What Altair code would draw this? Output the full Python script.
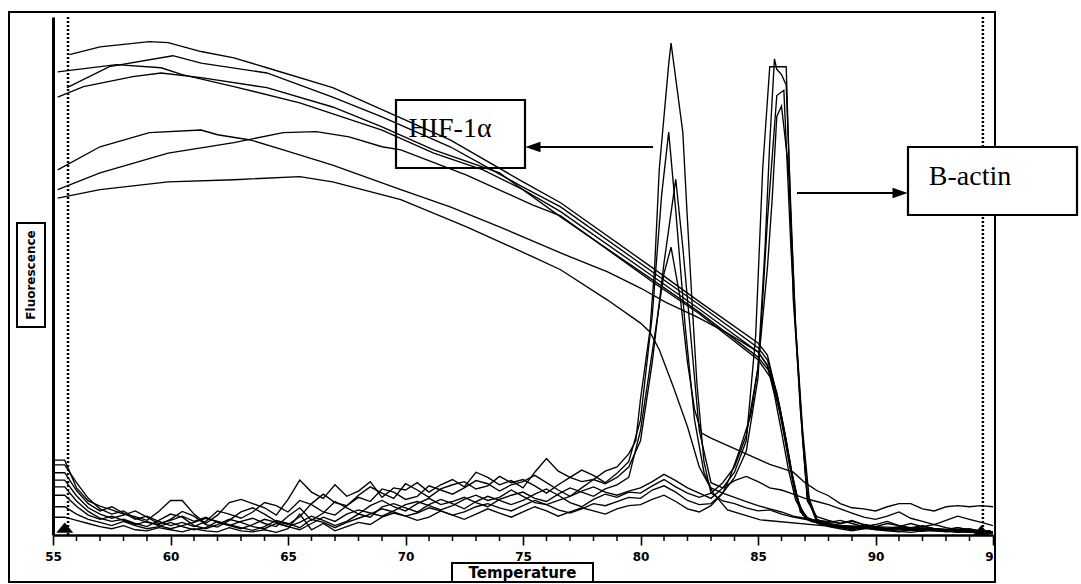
import altair as alt
import pandas as pd

# ---------------- melt curves (fluorescence, arbitrary units 0-99) ----------------
M1_T = [55.7,57.0,59.1,59.9,61.3,62.7,64.1,66.9,69.0,71.9,75.0,76.6,80.5,82.5,85.0,85.4,85.6,85.9,86.2,86.5,86.8,87.3,88.9,94.9]
M1_Y = [91.8,93.3,94.3,94.1,92.4,91.2,89.3,85.5,81.3,75.5,67.5,63.5,51.1,44.6,36.7,34.4,30.6,24.9,18.2,10.5,4.4,2.5,1.3,0.6]
M2_T = [55.6,57.4,60.1,61.3,64.1,66.9,69.0,71.9,75.0,76.6,80.5,82.5,85.0,85.4,85.7,86.0,86.3,86.6,86.9,87.6,90.2,94.9]
M2_Y = [85.5,89.5,91.6,90.2,88.3,83.7,79.9,74.2,66.5,62.7,50.3,44.0,35.8,33.5,28.7,22.0,14.3,7.6,3.8,2.1,1.1,0.4]
M3_T = [55.2,57.7,59.6,60.5,62.7,65.5,69.0,71.2,73.3,75.0,76.6,80.5,82.5,85.0,85.4,85.8,86.1,86.4,86.7,87.0,88.1,91.9,94.9]
M3_Y = [88.5,89.9,89.3,88.0,85.7,82.6,77.4,73.0,69.8,66.0,61.8,49.5,43.2,35.0,32.5,27.3,20.5,12.8,6.7,3.3,1.7,1.0,0.8]
M4_T = [55.2,56.3,58.4,59.6,61.3,64.1,66.9,69.0,71.2,74.0,76.6,80.5,82.5,85.0,85.5,85.85,86.15,86.45,86.75,87.1,88.5,94.9]
M4_Y = [83.7,85.7,87.6,88.3,87.4,85.5,81.8,78.0,73.6,69.2,60.8,48.8,42.6,34.0,31.2,25.8,18.9,11.5,5.7,2.9,1.5,0.6]
M5_T = [55.2,57.0,59.1,61.3,62.0,63.4,64.8,66.9,69.8,71.9,74.0,76.6,78.6,80.0,81.1,82.4,83.7,85.0,85.4,85.7,86.0,86.3,86.6,87.0,88.1,94.9]
M5_Y = [69.8,74.2,76.9,77.4,76.5,75.5,73.6,70.7,66.0,62.7,58.9,53.9,50.3,47.2,44.4,41.7,38.6,35.0,32.3,26.8,19.7,12.4,6.7,3.4,1.9,0.8]
M6_T = [55.2,57.0,59.9,62.7,64.8,66.2,67.6,69.0,69.8,72.6,75.4,76.6,80.5,82.5,85.0,85.55,85.9,86.2,86.5,86.8,87.2,89.3,94.9]
M6_Y = [66.0,69.2,73.0,75.0,76.9,77.1,76.1,74.2,73.6,68.8,63.1,61.0,48.4,42.3,33.5,30.0,23.9,17.2,9.9,5.2,2.7,1.3,0.6]
M7_T = [55.2,57.0,59.9,62.7,65.5,66.9,69.8,72.6,75.4,76.6,78.6,80.0,80.4,80.8,81.4,82.0,82.5,83.1,83.7,85.1,88.9,94.9]
M7_Y = [64.4,66.0,67.5,67.9,68.5,67.5,64.1,58.9,53.2,50.7,44.9,40.5,38.8,35.4,28.3,20.7,13.0,8.0,4.8,2.9,1.3,0.6]

# ---------------- derivative (melt peak) curves ----------------
T_PRE = [55.0 + 0.5 * i for i in range(50)]    # 55.0 ... 79.5
T_POST = [88.0 + 0.5 * i for i in range(15)]   # 88.0 ... 95.0

D1_PRE = [14.3,14.3,9.0,6.5,5.5,4.8,4.0,3.5,2.8,4.5,
          6.6,6.6,4.0,2.2,3.8,6.2,6.8,6.0,5.2,3.8,
          6.8,10.5,8.2,7.0,9.6,7.4,8.4,10.2,7.2,9.0,
          8.6,10.0,8.2,9.6,10.6,9.2,12.0,11.0,9.6,10.4,
          9.0,12.0,14.6,12.2,11.0,10.2,10.6,12.2,13.0,15.5]
D2_PRE = [13.4,13.4,10.0,7.0,5.0,4.0,4.6,3.2,2.4,2.0,
          3.0,4.5,3.6,2.0,1.5,2.8,4.4,5.2,4.0,2.6,
          2.0,3.5,6.0,7.8,6.2,5.6,7.6,9.2,8.0,7.0,
          9.8,8.6,7.2,8.8,9.6,10.2,8.8,9.4,11.2,10.0,
          10.6,9.4,8.0,9.6,11.0,12.4,11.4,10.0,11.8,14.0]
D3_PRE = [11.9,11.9,8.5,6.0,4.6,5.4,4.2,3.0,3.6,2.6,
          1.8,2.4,1.6,2.6,4.6,4.0,3.2,4.4,6.2,5.6,
          4.4,6.6,5.8,4.4,3.8,5.6,7.2,6.4,8.8,8.2,
          6.8,7.4,9.4,8.6,7.8,9.0,10.4,9.8,8.4,9.6,
          10.2,11.4,10.0,8.6,7.4,9.0,10.6,9.8,11.0,13.0]
D4_PRE = [10.5,10.5,7.5,5.2,4.0,3.2,3.8,4.6,3.4,2.2,
          2.8,3.6,2.6,3.4,2.4,1.8,2.6,3.2,2.2,1.6,
          3.6,5.2,2.8,4.2,6.4,5.2,4.0,5.6,6.6,5.4,
          4.6,6.0,7.0,5.8,6.4,7.2,6.2,5.4,6.8,7.6,
          8.2,7.0,6.4,7.8,9.0,8.2,7.4,8.8,9.6,11.0]
D5_PRE = [9.2,9.2,6.5,4.5,3.2,2.6,3.0,2.2,1.6,2.8,
          4.0,3.4,1.8,1.2,2.0,3.0,2.4,1.6,1.2,2.2,
          1.6,2.4,3.6,2.8,1.8,2.6,4.0,3.4,5.4,6.0,
          5.2,4.4,5.8,6.8,6.0,5.0,6.4,7.4,6.6,5.8,
          6.6,7.8,8.8,7.6,6.2,5.4,6.8,7.8,7.2,8.2]
D6_PRE = [7.6,7.6,5.5,3.8,3.0,3.6,2.8,2.0,2.6,1.8,
          1.2,1.8,2.4,3.2,2.6,1.8,1.2,2.0,3.0,2.4,
          1.6,1.0,2.2,3.4,2.6,4.0,4.8,4.2,3.6,4.6,
          5.8,6.4,5.6,4.8,5.6,6.8,7.6,6.6,7.2,8.6,
          7.4,6.2,5.8,6.6,7.4,8.4,9.2,8.2,7.6,8.4]
D7_PRE = [5.4,5.4,4.0,3.0,2.4,1.8,2.6,1.8,1.2,1.6,
          2.4,1.6,1.0,1.4,2.6,2.0,1.4,0.9,1.6,2.8,
          2.2,1.4,3.0,2.4,1.4,2.4,3.2,4.0,5.0,4.4,
          3.6,4.2,5.2,4.6,3.8,4.4,5.4,6.0,5.2,4.6,
          5.6,6.6,5.8,4.8,4.2,5.0,6.0,5.6,6.4,7.2]
D8_PRE = [3.4,3.4,2.8,2.2,1.6,1.2,1.8,1.0,0.8,1.4,
          1.0,0.6,1.2,0.8,0.6,1.4,0.8,0.6,1.0,0.5,
          1.2,4.0,1.0,2.2,0.8,1.6,2.4,2.0,3.4,4.2,
          3.6,2.8,3.4,4.6,3.8,3.0,4.0,5.0,4.2,3.4,
          4.4,5.4,4.6,3.6,4.4,5.2,4.6,4.0,5.0,5.6]

# HIF-1a peaks (~81 C)
D1_MT = [79.8,80.0,80.4,80.6,80.8,81.0,81.2,81.3,81.8,82.0,82.2,82.4,82.7,83.0,83.5,84.0,84.5,85.0,85.5,86.0,86.5,87.0,87.5]
D1_MY = [18,26,39,51,70,80,90,94,77,60,44,29,14,8,6.5,6.0,5.2,4.6,4.8,4.0,3.4,3.0,2.8]
D2_MT = [80.0,80.5,80.9,81.2,81.5,81.9,82.3,82.7,83.0,83.5,84.0,84.5,85.0,85.5,86.0,86.5,87.0,87.5]
D2_MY = [22,42,65,77,62,40,22,12,9.0,8.0,7.2,6.4,5.6,5.0,4.4,3.6,3.2,2.6]
D3_MT = [80.0,80.5,81.0,81.5,81.8,82.1,82.5,83.0,83.5,84.0,84.5,85.0,85.5,86.0,86.5,87.0,87.5]
D3_MY = [18,33,52,68,55,40,20,10,9.0,10.4,11.2,10.2,9.0,8.6,7.8,7.0,6.4]
D4_MT = [80.0,80.5,81.0,81.3,81.7,82.0,82.3,82.6,83.0,83.5,84.0,84.5,85.0,85.5,86.0,86.5,87.0,87.5]
D4_MY = [20,35,50,55,45,33,24,19.5,18.5,17.5,16.5,15.5,14.5,13.5,12.8,12.0,10.0,8.5]
# B-actin peaks (~86 C)
D5_MT = [80.0,80.5,81.0,81.5,82.0,82.5,83.0,83.5,84.0,84.5,85.0,85.3,85.5,85.7,85.8,86.0,86.2,86.4,86.6,86.9,87.1,87.5]
D5_MY = [8.0,9.4,10.6,9.2,8.0,7.2,8.0,10,13,19,32,55,75,91,89,88,86,62,40,18,7,3]
D6_MT = [80.0,80.5,81.0,81.5,82.0,82.5,83.0,83.5,84.0,84.5,84.9,85.2,85.5,86.2,86.5,86.9,87.1,87.5]
D6_MY = [9.0,10.2,11.6,10.4,9.0,8.0,7.0,9,12,18,38,70,89.5,89.5,45,19,6.5,3.5]
D7_MT = [80.0,80.5,81.0,81.5,82.0,82.5,83.0,83.5,84.0,84.5,85.0,85.4,85.8,86.1,86.4,86.8,87.1,87.5]
D7_MY = [7.0,8.6,9.4,8.2,6.6,5.8,6.0,8,11,16,30,60,84,85,55,24,8,3]
D8_MT = [80.0,80.5,81.0,81.5,82.0,82.5,83.0,83.5,83.8,84.2,84.7,85.0,85.4,85.6,85.8,86.0,86.3,86.6,86.9,87.2,87.5]
D8_MY = [5.8,6.8,7.6,6.4,5.0,4.4,5.6,8,11,16,23,32,51,64,80,82,70,40,20,6,2.5]

D1_POST = [2.6,2.2,2.8,2.0,1.6,2.2,1.8,1.4,1.8,1.2,1.0,1.4,0.9,0.8,0.6]
D2_POST = [2.4,2.8,2.2,1.6,2.0,2.6,1.8,1.2,1.6,2.0,1.4,1.0,1.2,0.7,0.5]
D3_POST = [5.8,5.0,4.2,3.4,3.0,3.6,4.4,3.2,2.6,2.0,2.8,3.6,3.0,2.4,1.8]
D4_POST = [7.5,6.0,5.2,5.0,4.6,5.4,6.0,6.0,5.0,4.6,5.4,5.6,5.4,5.6,5.4]
D5_POST = [2.2,1.8,1.4,1.8,1.2,0.9,1.3,1.0,0.7,1.1,0.8,0.6,0.9,0.5,0.4]
D6_POST = [2.8,2.2,2.6,2.0,1.6,1.2,1.6,2.2,1.6,1.2,1.0,1.4,1.0,0.8,0.6]
D7_POST = [1.8,1.4,1.0,1.4,1.0,0.8,0.6,1.0,1.4,0.9,0.6,0.8,0.5,0.4,0.3]
D8_POST = [1.6,1.2,0.8,1.2,1.6,1.0,0.7,0.5,0.8,1.2,0.8,0.5,0.7,0.4,0.3]

# melt range markers
MARK_T = [55.64, 94.57]
TRI_T = [55.5, 94.5]
TRI_Y = [1.4, 0.9]

MAJOR_TICKS = [55, 60, 65, 70, 75, 80, 85, 90, 95]
MINOR_TICKS = [t for t in range(56, 95) if t % 5 != 0]

rows = []
def add(name, ts, ys):
    for i, (t, y) in enumerate(zip(ts, ys)):
        rows.append({"curve": name, "T": t, "F": y, "i": i})

add("M1", M1_T, M1_Y); add("M2", M2_T, M2_Y); add("M3", M3_T, M3_Y)
add("M4", M4_T, M4_Y); add("M5", M5_T, M5_Y); add("M6", M6_T, M6_Y)
add("M7", M7_T, M7_Y)
for n, pre, mt, my, post in [
    ("D1", D1_PRE, D1_MT, D1_MY, D1_POST), ("D2", D2_PRE, D2_MT, D2_MY, D2_POST),
    ("D3", D3_PRE, D3_MT, D3_MY, D3_POST), ("D4", D4_PRE, D4_MT, D4_MY, D4_POST),
    ("D5", D5_PRE, D5_MT, D5_MY, D5_POST), ("D6", D6_PRE, D6_MT, D6_MY, D6_POST),
    ("D7", D7_PRE, D7_MT, D7_MY, D7_POST), ("D8", D8_PRE, D8_MT, D8_MY, D8_POST)]:
    add(n, T_PRE + mt + T_POST, pre + my + post)

df = pd.DataFrame(rows)

W, H = 940, 518
xscale = alt.Scale(domain=[55, 95], nice=False, zero=False)
yscale = alt.Scale(domain=[0, 99], nice=False, zero=True)

xaxis = alt.Axis(
    values=MAJOR_TICKS, title=None, grid=False,
    labelExpr="datum.value == 95 ? '9' : datum.label",
    labelAlign={"condition": {"test": "datum.value == 95", "value": "right"}, "value": "center"},
    labelFlush=False, labelOverlap=False,
    labelFont="DejaVu Sans", labelFontWeight="bold", labelFontSize=12, labelColor="black",
    labelPadding=6, tickSize=10, tickWidth=1.6, tickColor="black",
    domainColor="black", domainWidth=2.5,
)
yaxis = alt.Axis(labels=False, ticks=False, title=None, grid=False,
                 domainColor="black", domainWidth=3)

curves = alt.Chart(df).mark_line(color="black", strokeWidth=1.35, clip=True).encode(
    x=alt.X("T:Q", scale=xscale, axis=xaxis),
    y=alt.Y("F:Q", scale=yscale, axis=yaxis),
    detail="curve:N",
    order="i:Q",
)

minor = alt.Chart(pd.DataFrame({"T": MINOR_TICKS})).mark_rule(
    color="black", strokeWidth=1.5
).encode(x=alt.X("T:Q", scale=xscale), y=alt.value(H), y2=alt.value(H + 6))

rules = alt.Chart(pd.DataFrame({"T": MARK_T})).mark_rule(
    color="black", strokeWidth=2.5, strokeDash=[2, 2]
).encode(x=alt.X("T:Q", scale=xscale))

tris = alt.Chart(pd.DataFrame({"T": TRI_T, "F": TRI_Y})).mark_point(
    shape="M -1 0.6 L 0 -0.6 L 1 0.6 Z", filled=True, color="black", size=290, opacity=1
).encode(x=alt.X("T:Q", scale=xscale), y=alt.Y("F:Q", scale=yscale))

one = pd.DataFrame({"k": [0]})

def box(x1, x2, y1, y2, fill=None, sw=2):
    kw = dict(stroke="black", strokeWidth=sw)
    if fill:
        kw["fill"] = fill
    else:
        kw["filled"] = False
        kw["fillOpacity"] = 0
    return alt.Chart(one).mark_rect(**kw).encode(
        x=alt.value(x1), x2=alt.value(x2), y=alt.value(y1), y2=alt.value(y2))

def label(txt, x, y, font, size, weight="normal", angle=0):
    kw = dict(text=txt, font=font, fontSize=size, fontWeight=weight,
              align="center", baseline="middle", color="black")
    if angle:
        kw["angle"] = angle
    return alt.Chart(one).mark_text(**kw).encode(x=alt.value(x), y=alt.value(y))

def hline(x1, x2, y, sw=2):
    return alt.Chart(one).mark_rule(color="black", strokeWidth=sw).encode(
        x=alt.value(x1), x2=alt.value(x2), y=alt.value(y))

def head(x, y, shape):
    return alt.Chart(one).mark_point(shape=shape, filled=True, color="black",
                                     size=360, opacity=1).encode(
        x=alt.value(x), y=alt.value(y))

frame = box(-44, 942, -5, 565, sw=2)
fluo_box = box(-36, -8, 206, 310, sw=2)
fluo_txt = label("Fluorescence", -22, 258, "DejaVu Sans", 12, "bold", angle=270)
temp_box = box(399, 540, 546, 565, fill="white", sw=2)
temp_txt = label("Temperature", 469.5, 556, "DejaVu Sans", 15, "bold")

hif_box = box(343, 472, 83, 151, sw=2.2)
hif_txt = label("HIF-1α", 397, 112, "Liberation Serif", 28)
hif_line = hline(486, 600, 130)
hif_head = head(478, 130, "M 1 -0.55 L -0.6 0 L 1 0.55 Z")

ba_box = box(855, 1024, 130, 198, fill="white", sw=2.2)
ba_txt = label("B-actin", 917, 160, "Liberation Serif", 28)
ba_line = hline(744, 842, 176)
ba_head = head(849, 176, "M -1 -0.55 L 0.6 0 L -1 0.55 Z")

chart = alt.layer(
    curves, minor, rules, tris, frame, fluo_box, fluo_txt, temp_box, temp_txt,
    hif_box, hif_txt, hif_line, hif_head, ba_line, ba_head, ba_box, ba_txt,
).properties(
    width=W, height=H,
    padding={"left": 53, "top": 17, "right": 88, "bottom": 49},
    autosize=alt.AutoSizeParams(type="none"),
    background="white",
).configure_view(stroke=None)

chart.save("out.html", embed_options={"renderer": "svg", "actions": False})
